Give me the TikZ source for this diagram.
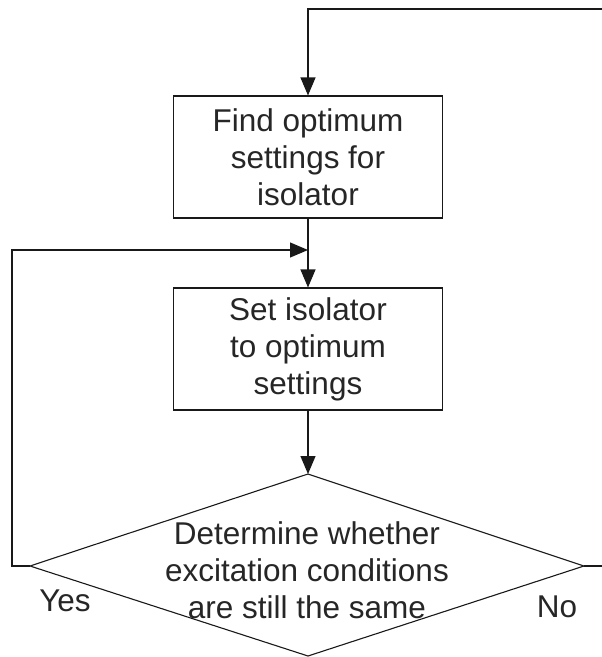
\documentclass[tikz,border=0pt]{standalone}
\usepackage{fontspec}
\setmainfont{Liberation Sans}
\usetikzlibrary{arrows.meta}
\begin{document}
\begin{tikzpicture}[x=1pt,y=-1pt,
  every node/.style={font=\fontsize{31.5}{37}\selectfont, text=black!85},
  stepbox/.style={draw=black!90, line width=1.1pt, minimum width=269pt, minimum height=122pt, inner sep=0pt, align=center},
  conn/.style={draw=black!90, line width=1.1pt},
  arr/.style={conn, -{Triangle[length=18pt,width=15pt]}}]
\useasboundingbox (0,0) rectangle (602,657);
\node[stepbox] (b1) at (308,157) {Find optimum\\settings for\\isolator};
\node[stepbox] (b2) at (308,349) {Set isolator\\to optimum\\settings};
\coordinate (dt) at (308,474);
\coordinate (db) at (308,656);
\coordinate (dl) at (30,566);
\coordinate (dr) at (584,566);
\draw[conn, line join=miter] (dt) -- (dr) -- (db) -- (dl) -- cycle;
\node[align=center, inner sep=0pt] (dtext) at (307,570) {Determine whether\\excitation conditions\\are still the same};
\coordinate (tr) at (602,9);
\coordinate (tl) at (308,9);
\coordinate (ll) at (12,566);
\coordinate (lu) at (12,250);
\coordinate (lj) at (308,250);
\coordinate (rs) at (602,566);
\draw[arr] (tr) -- (tl) -- (b1.north);
\draw[arr] (b1.south) -- (b2.north);
\draw[arr] (dl) -- (ll) -- (lu) -- (lj);
\draw[arr] (b2.south) -- (dt);
\draw[conn] (dr) -- (rs);
\node (yes) at (65,601) {Yes};
\node (no) at (557,607) {No};
\end{tikzpicture}
\end{document}
